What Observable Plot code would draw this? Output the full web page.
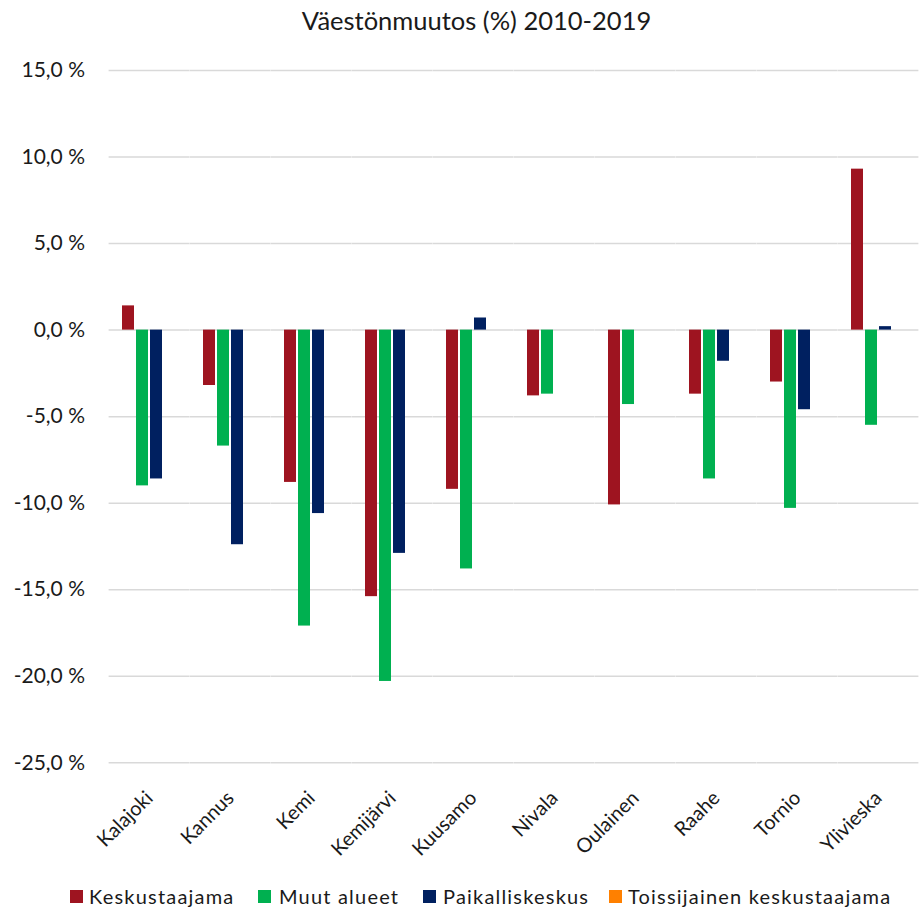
<!DOCTYPE html>
<html>
<head>
<meta charset="utf-8">
<script src="https://cdn.jsdelivr.net/npm/d3@7"></script>
<script src="https://cdn.jsdelivr.net/npm/@observablehq/plot@0.6"></script>
<style>
  html, body { margin: 0; padding: 0; background: #fff; }
  #wrap { width: 920px; height: 913px; position: relative; font-family: Lato, "Open Sans", sans-serif; color: #262626; }
  #title { height: 40px; line-height: 40px; font-size: 25.5px; text-align: center; padding-left: 33px; box-sizing: border-box; width: 920px; color: #1a1a1a; }
  #legend { position: relative; height: 43px; width: 920px; }
  .sw { position: absolute; width: 13px; height: 13px; top: 20px; }
  .lt { position: absolute; top: 14px; font-size: 20px; letter-spacing: 1.2px; line-height: 24px; color: #1a1a1a; white-space: nowrap; }
</style>
</head>
<body>
<div id="wrap">
  <div id="title">Väestönmuutos (%) 2010-2019</div>
  <div id="chart"></div>
  <div id="legend"></div>
</div>
<script>
const cities = ["Kalajoki","Kannus","Kemi","Kemijärvi","Kuusamo","Nivala","Oulainen","Raahe","Tornio","Ylivieska"];
const seriesNames = ["Keskustaajama","Muut alueet","Paikalliskeskus","Toissijainen keskustaajama"];
const seriesColors = ["#9E1420","#00B050","#002060","#FF8000"];
const keskustaajama = [1.4, -3.2, -8.8, -15.4, -9.2, -3.8, -10.1, -3.7, -3.0, 9.3];
const muutAlueet = [-9.0, -6.7, -17.1, -20.3, -13.8, -3.7, -4.3, -8.6, -10.3, -5.5];
const paikalliskeskus = [-8.6, -12.4, -10.6, -12.9, 0.7, null, null, -1.8, -4.6, 0.2];
const toissijainen = [null, null, null, null, null, null, null, null, null, null];
const yTicks = [-25, -20, -15, -10, -5, 0, 5, 10, 15];

const seriesValues = [keskustaajama, muutAlueet, paikalliskeskus, toissijainen];
const rows = [];
seriesNames.forEach((s, si) => {
  cities.forEach((c, ci) => {
    const v = seriesValues[si][ci];
    if (v !== null && v !== undefined) rows.push({city: c, series: s, value: v});
  });
});

const fmt = d => d.toFixed(1).replace(".", ",") + " %";

const chart = Plot.plot({
  width: 920,
  height: 830,
  marginTop: 30,
  marginBottom: 107.7,
  marginLeft: 108,
  marginRight: 0,
  style: {fontFamily: "Lato, 'Open Sans', sans-serif", fontSize: "20px", color: "#1a1a1a", background: "white"},
  fx: {domain: cities, paddingInner: 0.305, paddingOuter: 0.1525, label: null},
  x: {domain: seriesNames, paddingInner: 0.16, paddingOuter: 0, axis: null},
  y: {domain: [-25, 15], label: null},
  color: {domain: seriesNames, range: seriesColors},
  marks: [
    Plot.ruleY(yTicks, {stroke: "#D9D9D9", strokeWidth: 1.5, insetLeft: -12.4, insetRight: -12.4}),
    Plot.axisY({ticks: yTicks, tickFormat: fmt, tickSize: 0, tickPadding: 23, dx: -13.5, fontSize: 21, label: null}),
    Plot.axisFx({anchor: "bottom", tickRotate: -45, tickSize: 0, tickPadding: 32, fontSize: 20, label: null}),
    Plot.barY(rows, {fx: "city", x: "series", y: "value", fill: "series"})
  ]
});
document.getElementById("chart").appendChild(chart);

const legend = document.getElementById("legend");
const swLeft = [70, 258, 423, 609];
const txtLeft = [89, 279, 443, 628];
seriesNames.forEach((s, i) => {
  const sw = document.createElement("div");
  sw.className = "sw";
  sw.style.left = swLeft[i] + "px";
  sw.style.background = seriesColors[i];
  legend.appendChild(sw);
  const t = document.createElement("div");
  t.className = "lt";
  t.style.left = txtLeft[i] + "px";
  t.textContent = s;
  legend.appendChild(t);
});
</script>
</body>
</html>
